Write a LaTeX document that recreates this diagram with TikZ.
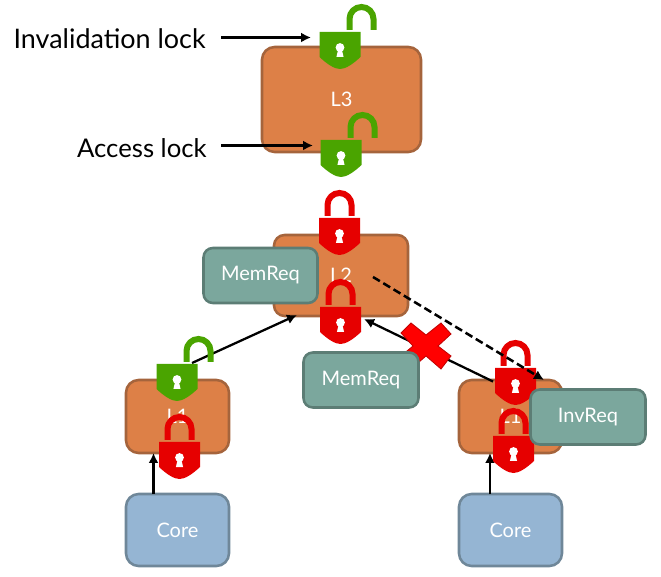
\documentclass[tikz,border=0pt]{standalone}
\usepackage{fontspec}
\setmainfont{Lato}
\usetikzlibrary{positioning,calc,arrows.meta}
\definecolor{cacheorange}{HTML}{DD8047}
\definecolor{cacheedge}{HTML}{A5643C}
\definecolor{reqteal}{HTML}{7BA79D}
\definecolor{reqedge}{HTML}{5C7D75}
\definecolor{coreblue}{HTML}{95B5D3}
\definecolor{coreedge}{HTML}{6F8799}
\definecolor{lockgreen}{HTML}{4AA400}
\definecolor{lockred}{HTML}{E60000}
\definecolor{crossedge}{HTML}{C00000}

\tikzset{
  boxsize/.style 2 args={minimum width=#1*0.75pt,minimum height=#2*0.75pt},
  block/.style={rectangle,draw,line width=1.9pt,inner sep=0pt,outer sep=0pt,
    text=white,font=\fontsize{15}{15}\selectfont},
  cache/.style={block,fill=cacheorange,draw=cacheedge,rounded corners=9.5pt},
  request/.style={block,fill=reqteal,draw=reqedge,rounded corners=7pt,font=\fontsize{15}{16}\selectfont},
  core/.style={block,fill=coreblue,draw=coreedge,rounded corners=9.5pt},
  lockbody/.style={rectangle,inner sep=0pt,outer sep=0pt,minimum width=30pt,minimum height=27pt},
  locklabel/.style={inner sep=0pt,anchor=east},
  link/.style={-{Latex[length=7.5pt,width=7.5pt]},line width=1.7pt}
}

% name, centre x, top y of the body, colour, shift of the shackle
\newcommand{\padlock}[5]{
  \node [lockbody] (#1) at (#2,#3+18) {};
  \begin{scope}[shift={(#2,#3)}]
    \draw [#4,line width=4.5pt] (-12+#5,-2) -- ++(0,-11) arc[start angle=180,end angle=360,radius=12] -- ++(0,11);
    \fill [#4] (-20.5,0) -- (20.5,0) -- (20.5,25) .. controls (12,33) and (5,37) .. (0,37)
      .. controls (-5,37) and (-12,33) .. (-20.5,25) -- cycle;
    \fill [white] (0,15.5) circle[radius=4.4];
    \fill [white] (-1.7,17) -- (1.7,17) -- (3.6,25) -- (-3.6,25) -- cycle;
  \end{scope}
}

\begin{document}
\begin{tikzpicture}[x=0.75pt,y=-0.75pt]
  \useasboundingbox (0,0) rectangle (661,577);

  \node [cache,boxsize={159}{105}] (lthree) at (341.5,99.5) {L3};
  \node [cache,boxsize={134}{81},rounded corners=8pt] (ltwo) at (341,275.5) {L2};
  \node [cache,boxsize={103}{73}] (loneleft) at (177.5,416.5) {L1};
  \node [cache,boxsize={103}{73}] (oneright) at (510.5,416.5) {L1};
  \node [core,boxsize={103}{72}] (coreleft) at (177.5,530) {Core};
  \node [core,boxsize={103}{72}] (coreright) at (510.5,530) {Core};

  \node [locklabel,font=\fontsize{20.2}{20}\selectfont] (invtitle) at (206,39) {Invalidation lock};
  \node [locklabel,font=\fontsize{19.3}{20}\selectfont] (accesstitle) at (207,148) {Access lock};

  % connectors under the locks
  \draw [link] ([shift={(15,-1.5)}]invtitle.east) -- ([shift={(105,-1.5)}]invtitle.east);
  \draw [link] ([shift={(14,-2.5)}]accesstitle.east) -- ([shift={(106,-2.5)}]accesstitle.east);
  \draw [link] ([xshift=-18pt]coreleft.north) -- ([xshift=-18pt]loneleft.south);
  \draw [link] ([xshift=-15.4pt]coreright.north) -- ([xshift=-15.4pt]oneright.south);
  \coordinate (greenfoot) at (192,363);
  \draw [link] (greenfoot) -- ([shift={(-44,-1)}]ltwo.south);
  \coordinate (redfoot) at (493,381.5);
  \draw [link] (redfoot) -- ([shift={(23,3)}]ltwo.south);

  \padlock{lockinv}{340}{32}{lockgreen}{21.5}
  \padlock{lockacc}{341}{140}{lockgreen}{21.5}
  \padlock{locktwotop}{339.5}{218}{lockred}{0}
  \padlock{locktwobot}{340.5}{307}{lockred}{0}
  \padlock{lockleftgreen}{177}{364}{lockgreen}{21.5}
  \padlock{lockleftred}{179.5}{442}{lockred}{0}
  \padlock{lockrighttop}{515.5}{368}{lockred}{0}
  \padlock{lockrightbot}{513.5}{436}{lockred}{0}

  % the cross
  \node [inner sep=0pt,minimum size=1pt] (cross) at (426,346) {};
  \draw [red,draw=crossedge,fill=red,line width=0.6pt,shift={(cross)}] (-25,-13) -- (-15,-23) -- (0,-11) -- (15,-23) -- (25,-12) -- (12,0)
    -- (25,10) -- (15,23) -- (0,10) -- (-15,23) -- (-25,10) -- (-13,0) -- cycle;

  \node [request,boxsize={114}{55}] (memone) at (260.5,275.5) {MemReq};
  \node [request,boxsize={115}{55}] (memtwo) at (361,380) {MemReq};
  \node [request,boxsize={115}{55}] (invreq) at (588,417) {InvReq};

  % dashed request over everything
  \draw [link,dashed,line width=1.9pt,dash pattern=on 6pt off 3pt] ([shift={(32,1.5)}]ltwo.center) -- ([shift={(33.5,-36.5)}]oneright.center);
\end{tikzpicture}
\end{document}
